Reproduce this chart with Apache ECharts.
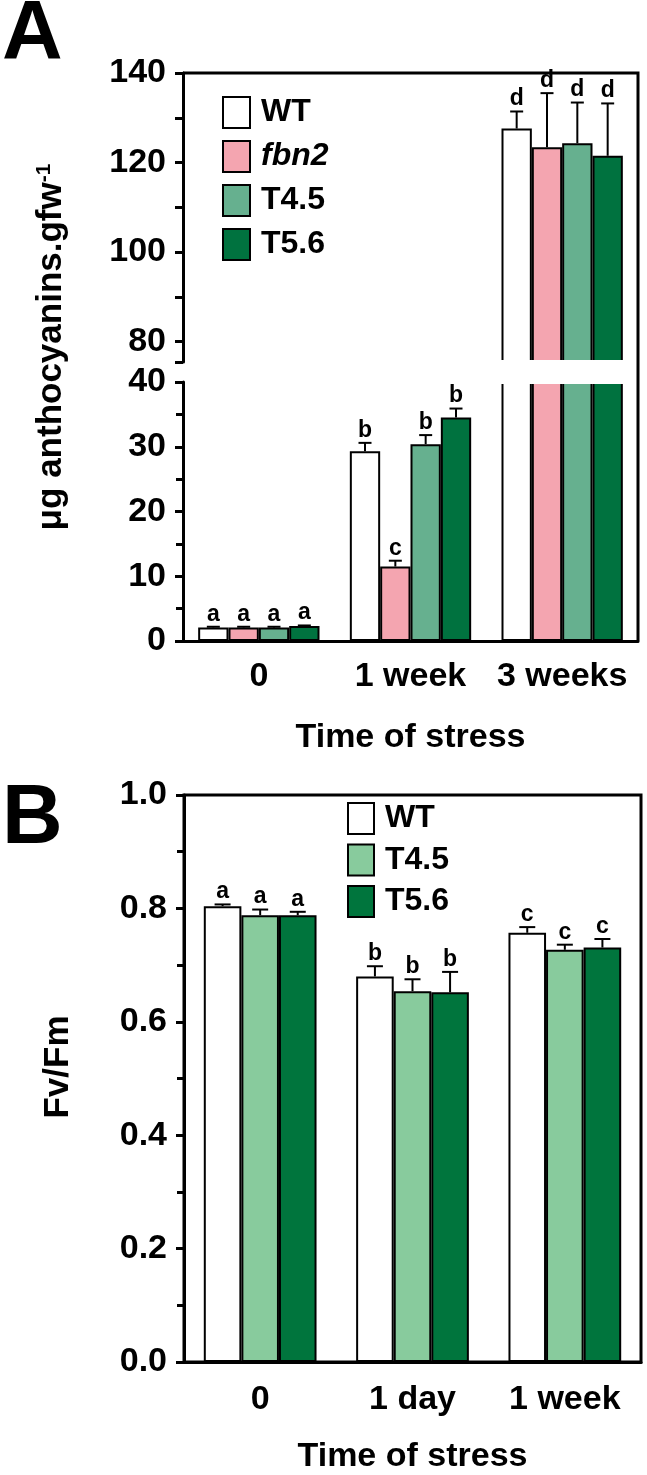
<!DOCTYPE html>
<html>
<head>
<meta charset="utf-8">
<script src="https://cdn.jsdelivr.net/npm/echarts@6/dist/echarts.min.js"></script>
<style>
  html, body { margin: 0; padding: 0; background: #fff; }
  #chartA { position: absolute; left: 0; top: 0; width: 647px; height: 780px; }
  #chartB { position: absolute; left: 0; top: 780px; width: 647px; height: 695px; }
</style>
</head>
<body>
<div id="chartA"></div>
<div id="chartB"></div>
<script>
// ---- panel A : anthocyanins ----
var timeA = ['0', '1 week', '3 weeks'];
var namesA = ['WT', 'fbn2', 'T4.5', 'T5.6'];
var colorsA = ['#ffffff', '#f4a5b0', '#66b08f', '#00723f'];
var wtA = [2.1, 29.3, 127.6];
var fbn2A = [2.1, 11.5, 123.4];
var t45A = [2.1, 30.4, 124.3];
var t56A = [2.3, 34.5, 121.5];
var wtAErr = [0.1, 1.3, 3.8];
var fbn2AErr = [0.1, 0.9, 12.1];
var t45AErr = [0.1, 1.4, 9.1];
var t56AErr = [0.1, 1.4, 11.7];
var wtALetters = ['a', 'b', 'd'];
var fbn2ALetters = ['a', 'c', 'd'];
var t45ALetters = ['a', 'b', 'd'];
var t56ALetters = ['a', 'b', 'd'];
var ticksAUpper = [80, 100, 120, 140];
var ticksALower = [0, 10, 20, 30, 40];

// ---- panel B : Fv/Fm ----
var timeB = ['0', '1 day', '1 week'];
var namesB = ['WT', 'T4.5', 'T5.6'];
var colorsB = ['#ffffff', '#88cb9d', '#00753d'];
var wtB = [0.804, 0.680, 0.757];
var t45B = [0.788, 0.654, 0.727];
var t56B = [0.788, 0.652, 0.731];
var wtBErr = [0.003, 0.018, 0.010];
var t45BErr = [0.010, 0.021, 0.009];
var t56BErr = [0.006, 0.036, 0.015];
var wtBLetters = ['a', 'b', 'c'];
var t45BLetters = ['a', 'b', 'c'];
var t56BLetters = ['a', 'b', 'c'];

var FONT = "'Liberation Sans', Arial, sans-serif";
var BIG = 34;

// error bars + letters above them, drawn with custom series
function errorSeries(items, nGroups, gapRatio, capW, xIdx, yIdx) {
    return {
        type: 'custom',
        xAxisIndex: xIdx,
        yAxisIndex: yIdx,
        clip: false,
        z: 5,
        silent: true,
        data: items.map(function (d) { return [d.cat, d.grp, d.val, d.err]; }),
        renderItem: function (params, api) {
            var ci = api.value(0), gi = api.value(1), v = api.value(2), e = api.value(3);
            var band = api.size([1, 0])[0];
            var total = band * (1 - gapRatio);
            var bw = total / nGroups;
            var p = api.coord([ci, v]);
            var x = p[0] - total / 2 + bw * (gi + 0.5);
            var yTop = api.coord([ci, v + e])[1];
            var st = { stroke: '#000', lineWidth: 2 };
            return {
                type: 'group',
                children: [
                    { type: 'line', shape: { x1: x, y1: p[1], x2: x, y2: yTop }, style: st },
                    { type: 'line', shape: { x1: x - capW / 2, y1: yTop, x2: x + capW / 2, y2: yTop }, style: st },
                    { type: 'text', x: x, y: yTop - 1, style: {
                        text: items[params.dataIndex].letter, fill: '#000',
                        font: 'bold 23px ' + FONT, align: 'center', verticalAlign: 'bottom' } }
                ]
            };
        }
    };
}

function collect(groups, pick) {
    var out = [];
    groups.forEach(function (g, gi) {
        g.vals.forEach(function (v, ci) {
            var d = { cat: ci, grp: gi, val: v, err: g.errs[ci], letter: g.letters[ci] };
            if (!pick || pick(d)) out.push(d);
        });
    });
    return out;
}

var groupsA = [
    { vals: wtA, errs: wtAErr, letters: wtALetters },
    { vals: fbn2A, errs: fbn2AErr, letters: fbn2ALetters },
    { vals: t45A, errs: t45AErr, letters: t45ALetters },
    { vals: t56A, errs: t56AErr, letters: t56ALetters }
];
var groupsB = [
    { vals: wtB, errs: wtBErr, letters: wtBLetters },
    { vals: t45B, errs: t45BErr, letters: t45BLetters },
    { vals: t56B, errs: t56BErr, letters: t56BLetters }
];

var axisLine = { show: true, lineStyle: { color: '#000', width: 3 } };
var tickStyle = { color: '#000', width: 3 };
var labelStyle = { color: '#000', fontSize: BIG, fontWeight: 'bold', fontFamily: FONT };

// layout of panel A (two grids for the broken axis)
var gA = { left: 183, right: 9, upTop: 73, upBottom: 362, lowTop: 382, lowBottom: 641 };
var upperMin = 140 - (gA.upBottom - gA.upTop) * 20 / 89.5;

function barsFor(names, colors, groups, axisIdx, gap) {
    return names.map(function (n, i) {
        return {
            type: 'bar', name: n, xAxisIndex: axisIdx, yAxisIndex: axisIdx,
            data: groups[i].vals, barGap: '0%', barCategoryGap: gap,
            itemStyle: { color: colors[i], borderColor: '#000', borderWidth: 2 },
            emphasis: { disabled: true }, silent: true
        };
    });
}

var legendFormatter = function (name) {
    return name === 'fbn2' ? '{i|' + name + '}' : '{n|' + name + '}';
};
var legendText = {
    color: '#000', fontSize: 32, fontWeight: 'bold', fontFamily: FONT,
    rich: {
        n: { fontSize: 32, fontWeight: 'bold', fontFamily: FONT, padding: [0, 0, 0, 6] },
        i: { fontSize: 32, fontWeight: 'bold', fontStyle: 'italic', fontFamily: FONT, padding: [0, 0, 0, 6] }
    }
};

var chartA = echarts.init(document.getElementById('chartA'));
chartA.setOption({
    animation: false,
    backgroundColor: '#fff',
    grid: [
        { left: gA.left, right: gA.right, top: gA.upTop, height: gA.upBottom - gA.upTop, outerBoundsMode: 'none' },
        { left: gA.left, right: gA.right, top: gA.lowTop, height: gA.lowBottom - gA.lowTop, outerBoundsMode: 'none' }
    ],
    legend: {
        data: namesA, orient: 'vertical', left: 222, top: 96, padding: 0,
        itemWidth: 27, itemHeight: 31, itemGap: 11, icon: 'rect',
        selectedMode: false, formatter: legendFormatter, textStyle: legendText,
        itemStyle: { borderColor: '#000', borderWidth: 2 }
    },
    xAxis: [
        { gridIndex: 0, type: 'category', data: timeA, show: false },
        { gridIndex: 1, type: 'category', data: timeA,
          axisLine: axisLine,
          axisTick: { alignWithLabel: true, length: 9, lineStyle: tickStyle },
          axisLabel: Object.assign({ margin: 19, interval: 0, hideOverlap: false }, labelStyle),
          name: 'Time of stress', nameLocation: 'middle', nameGap: 80,
          nameTextStyle: labelStyle }
    ],
    yAxis: [
        { gridIndex: 0, type: 'value', min: upperMin, max: 140,
          axisLine: axisLine,
          axisTick: { show: true, length: 8, lineStyle: tickStyle,
                      customValues: [upperMin, 80, 90, 100, 110, 120, 130, 140] },
          axisLabel: Object.assign({ margin: 17, customValues: ticksAUpper }, labelStyle),
          splitLine: { show: false } },
        { gridIndex: 1, type: 'value', min: 0, max: 40, interval: 10,
          axisLine: axisLine,
          axisTick: { show: true, length: 8, lineStyle: tickStyle },
          minorTick: { show: true, splitNumber: 2, length: 7, lineStyle: tickStyle },
          axisLabel: Object.assign({ margin: 17, customValues: ticksALower }, labelStyle),
          splitLine: { show: false } }
    ],
    series: barsFor(namesA, colorsA, groupsA, 0, '20%')
        .concat(barsFor(namesA, colorsA, groupsA, 1, '20%'))
        .concat([
            errorSeries(collect(groupsA, function (d) { return d.val > 40; }), 4, 0.2, 13, 0, 0),
            errorSeries(collect(groupsA, function (d) { return d.val <= 40; }), 4, 0.2, 13, 1, 1)
        ]),
    graphic: [
        // white gap of the axis break across the tall bars
        { type: 'rect', z: 100, silent: true,
          shape: { x: 497, y: gA.upBottom - 2, width: 132, height: gA.lowTop - gA.upBottom + 4 },
          style: { fill: '#fff' } },
        // top and right frame
        { type: 'polyline', z: 100, silent: true,
          shape: { points: [[gA.left, gA.upTop], [647 - gA.right, gA.upTop], [647 - gA.right, gA.lowBottom]] },
          style: { stroke: '#000', lineWidth: 3, fill: null } },
        { type: 'text', x: 2, y: 36, silent: true,
          style: { text: 'A', font: 'bold 84px ' + FONT, fill: '#000', verticalAlign: 'middle' } },
        { type: 'text', x: 51, y: 347, rotation: Math.PI / 2, silent: true,
          style: {
              text: '{m|μg anthocyanins.gfw}{s|-1}',
              align: 'center', verticalAlign: 'middle',
              rich: {
                  m: { font: 'bold 35px ' + FONT, fill: '#000' },
                  s: { font: 'bold 21px ' + FONT, fill: '#000', verticalAlign: 'top' }
              }
          } }
    ]
});

// ---- chart B (its div starts at y = 780) ----
var gB = { left: 184, right: 6, top: 15, bottom: 582 };
var chartB = echarts.init(document.getElementById('chartB'));
chartB.setOption({
    animation: false,
    backgroundColor: 'transparent',
    grid: { left: gB.left, right: gB.right, top: gB.top, height: gB.bottom - gB.top,
            outerBoundsMode: 'none', show: true, borderColor: '#000', borderWidth: 3 },
    legend: {
        data: namesB, orient: 'vertical', left: 347, top: 22, padding: 0,
        itemWidth: 26, itemHeight: 31, itemGap: 8.5, icon: 'rect',
        selectedMode: false, formatter: legendFormatter, textStyle: legendText,
        itemStyle: { borderColor: '#000', borderWidth: 2 }
    },
    xAxis: {
        type: 'category', data: timeB,
        axisLine: axisLine,
        axisTick: { alignWithLabel: true, length: 9, lineStyle: tickStyle },
        axisLabel: Object.assign({ margin: 21, interval: 0, hideOverlap: false }, labelStyle),
        name: 'Time of stress', nameLocation: 'middle', nameGap: 78,
        nameTextStyle: labelStyle
    },
    yAxis: {
        type: 'value', min: 0, max: 1, interval: 0.2,
        axisLine: axisLine,
        axisTick: { show: true, length: 8, lineStyle: tickStyle },
        minorTick: { show: true, splitNumber: 2, length: 7, lineStyle: tickStyle },
        axisLabel: Object.assign({ margin: 17, formatter: function (v) { return v.toFixed(1); } }, labelStyle),
        splitLine: { show: false }
    },
    series: barsFor(namesB, colorsB, groupsB, 0, '26%')
        .concat([errorSeries(collect(groupsB), 3, 0.26, 16, 0, 0)]),
    graphic: [
        { type: 'text', x: 2, y: 40, silent: true,
          style: { text: 'B', font: 'bold 84px ' + FONT, fill: '#000', verticalAlign: 'middle' } },
        { type: 'text', x: 58, y: 287, rotation: Math.PI / 2, silent: true,
          style: { text: 'Fv/Fm', font: 'bold 35px ' + FONT, fill: '#000',
                   align: 'center', verticalAlign: 'middle' } }
    ]
});
</script>
</body>
</html>
